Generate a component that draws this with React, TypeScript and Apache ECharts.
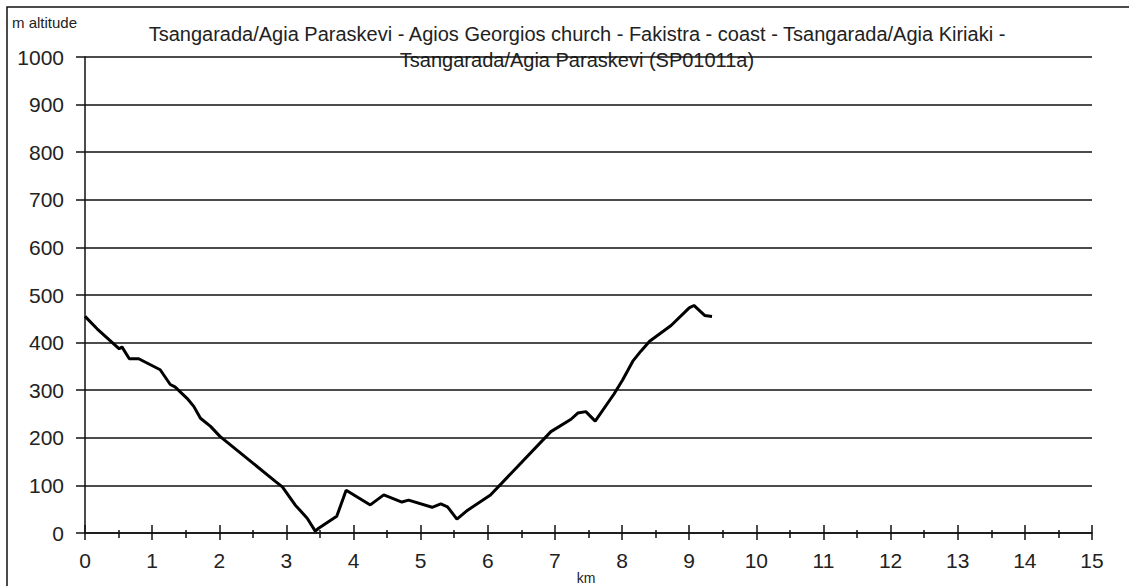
import React, { useEffect, useRef } from "react";
import * as echarts from "echarts";

const titleLines = [
  "Tsangarada/Agia Paraskevi - Agios Georgios church - Fakistra - coast - Tsangarada/Agia Kiriaki -",
  "Tsangarada/Agia Paraskevi (SP01011a)",
];
const yAxisName = "m altitude";
const xAxisName = "km";

const distanceKm = [
  0, 0.18, 0.51, 0.55, 0.66, 0.8, 1.12, 1.27, 1.34, 1.52, 1.62, 1.72, 1.87, 2.01,
  2.84, 2.94, 3.13, 3.31, 3.43, 3.48, 3.75, 3.89, 4.25, 4.45, 4.72, 4.82, 5.17,
  5.3, 5.4, 5.54, 5.7, 6.04, 6.94, 7.24, 7.34, 7.46, 7.6, 7.88, 8.01, 8.16, 8.28,
  8.41, 8.73, 9.0, 9.07, 9.23, 9.34,
];
const altitudeM = [
  455, 429, 387, 391, 366, 366, 343, 312, 307, 283, 266, 241, 224, 203,
  108, 97, 59, 31, 4, 10, 35, 90, 59, 80, 65, 69, 54,
  61, 55, 29, 48, 80, 213, 239, 252, 255, 235, 292, 322, 361, 382,
  403, 436, 473, 478, 457, 455,
];

const FONT = "'Liberation Sans', Arial, sans-serif";

export default function App() {
  const ref = useRef<HTMLDivElement>(null);
  useEffect(() => {
    if (!ref.current) return;
    const chart = echarts.init(ref.current, undefined, { renderer: "svg" });
    const points = distanceKm.map((d, i) => [d, altitudeM[i]]);
    chart.setOption({
      animation: false,
      backgroundColor: "#ffffff",
      textStyle: { fontFamily: FONT },
      grid: { left: 85, right: 37, top: 57, bottom: 53 },
      xAxis: [
        {
          type: "value",
          min: 0,
          max: 15,
          interval: 1,
          position: "bottom",
          axisLine: { show: true, lineStyle: { color: "#111", width: 1.5 } },
          axisTick: { show: true, inside: true, length: 8, lineStyle: { color: "#111", width: 1.5 } },
          minorTick: { show: true, splitNumber: 2, length: 3, lineStyle: { color: "#111", width: 1.5 } },
          splitLine: { show: false },
          axisLabel: { color: "#222", fontSize: 21, margin: 17, fontFamily: FONT },
        },
        {
          type: "value",
          min: 0,
          max: 15,
          interval: 1,
          position: "bottom",
          axisLine: { show: false },
          axisTick: { show: true, inside: false, length: 7, lineStyle: { color: "#111", width: 1.5 } },
          minorTick: { show: true, splitNumber: 2, length: 5, lineStyle: { color: "#111", width: 1.5 } },
          splitLine: { show: false },
          axisLabel: { show: false },
        },
      ],
      yAxis: {
        type: "value",
        min: 0,
        max: 1000,
        interval: 100,
        axisLine: { show: true, lineStyle: { color: "#111", width: 1.5 } },
        axisTick: { show: true, length: 9, lineStyle: { color: "#111", width: 1.5 } },
        splitLine: { show: true, lineStyle: { color: "#111", width: 1.5 } },
        axisLabel: {
          color: "#222",
          fontSize: 21,
          margin: 21,
          fontFamily: FONT,
          formatter: (v: number) => String(v),
        },
      },
      graphic: [
        {
          type: "rect",
          shape: { x: 7, y: 7, width: 1300, height: 800 },
          style: { fill: "none", stroke: "#111", lineWidth: 1.5 },
          silent: true,
        },
        {
          type: "text",
          x: 12,
          y: 15,
          style: { text: yAxisName, font: `15px ${FONT}`, fill: "#222" },
        },
        {
          type: "text",
          x: 577,
          y: 24,
          style: { text: titleLines[0], font: `20px ${FONT}`, fill: "#222", textAlign: "center" },
        },
        {
          type: "text",
          x: 577,
          y: 50,
          style: { text: titleLines[1], font: `20px ${FONT}`, fill: "#222", textAlign: "center" },
        },
        {
          type: "text",
          x: 586,
          y: 571,
          style: { text: xAxisName, font: `14px ${FONT}`, fill: "#222", textAlign: "center" },
        },
      ],
      series: [
        {
          type: "line",
          xAxisIndex: 0,
          data: points,
          showSymbol: false,
          lineStyle: { color: "#000", width: 3 },
        },
      ],
    });
    return () => chart.dispose();
  }, []);
  return (
    <div
      ref={ref}
      style={{ position: "fixed", left: 0, top: 0, width: 1129, height: 586 }}
    />
  );
}
